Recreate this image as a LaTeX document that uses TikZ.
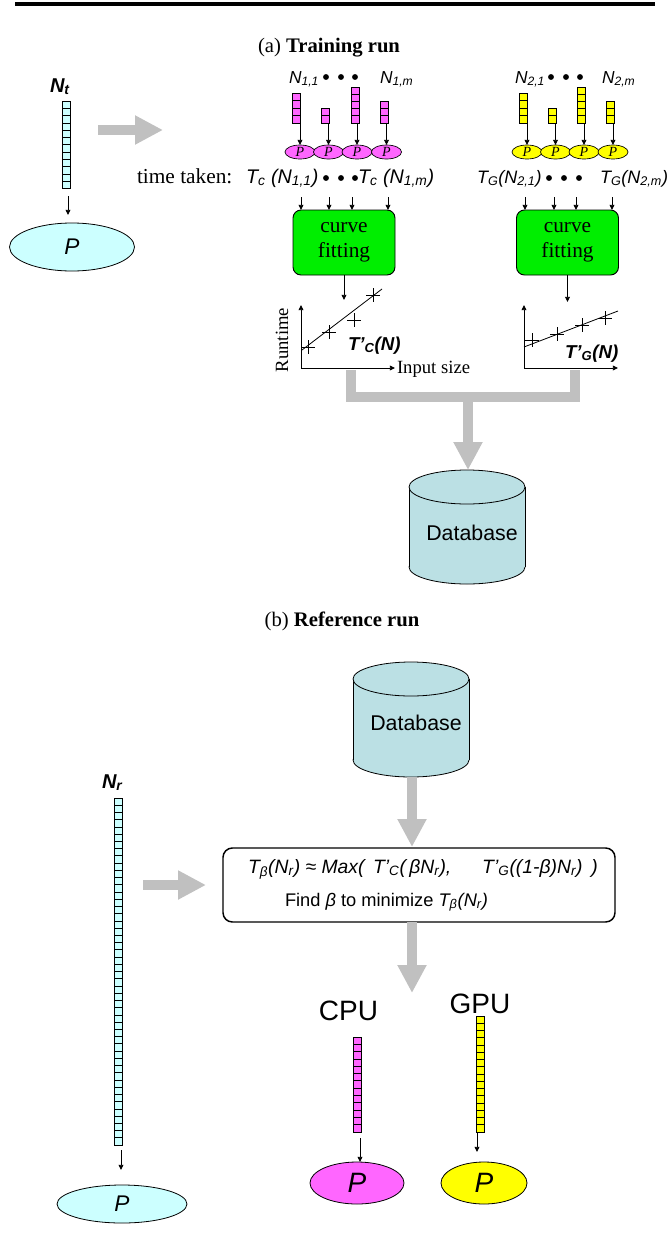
\documentclass[tikz,border=0pt]{standalone}
\usepackage{fontspec}
\setmainfont{Liberation Serif}
\setsansfont{Liberation Sans}
\usetikzlibrary{arrows.meta,shapes.geometric}

\definecolor{cyanc}{RGB}{204,255,255}
\definecolor{magc}{RGB}{255,102,255}
\definecolor{yelc}{RGB}{255,255,0}
\definecolor{grnc}{RGB}{0,238,0}
\definecolor{dbc}{RGB}{187,224,228}
\definecolor{grayc}{RGB}{192,192,192}

\newcommand\sfi{\sffamily\itshape}
% name, x, ytop, ncells, cell height (px), colour
\newcommand\mkbar[6]{%
  \node[barbox, fill=#6, minimum height={#4*#5*0.75pt}] (#1) at (#2,#3) {};
  \foreach \ci in {1,...,#4}{\draw[cellline] ([yshift={-\ci*#5*0.75pt}]#1.north west) -- ([yshift={-\ci*#5*0.75pt}]#1.north east);}
}
\newcommand\pcross[2]{\draw[plotline] (#1-7,#2) -- (#1+7,#2) (#1,#2-7) -- (#1,#2+7);}

\begin{document}
\begin{tikzpicture}[x=0.75pt,y=-0.75pt,
  every node/.style={inner sep=0pt, outer sep=0pt},
  barbox/.style={draw, line width=0.6pt, minimum width=6pt, anchor=north},
  cellline/.style={line width=0.6pt},
  arr/.style={-{Triangle[length=3.8pt,width=3.6pt]}, line width=0.6pt},
  plotline/.style={line width=0.6pt},
  gbig/.style={draw=grayc, line width=7.5pt, -{Triangle[length=21pt,width=20.5pt]}},
  gline/.style={draw=grayc, line width=7pt, line join=miter},
  pell/.style={ellipse, draw, line width=0.5pt, minimum width=22.5pt, minimum height=10.5pt, font=\fontsize{10.5}{10.5}\selectfont\itshape},
  bigell/.style={ellipse, draw, line width=0.6pt},
  dot/.style={circle, fill=black, minimum size=4.4pt},
  nlab/.style={anchor=base west, font=\sfi\fontsize{13}{13}\selectfont},
  tlab/.style={anchor=base west, font=\sfi\fontsize{13.5}{13.5}\selectfont},
  tclab/.style={anchor=base west, font=\sfi\fontsize{14.8}{14.8}\selectfont},
  cfbox/.style={draw, line width=0.7pt, fill=grnc, rounded corners=6pt, minimum width=76.5pt, minimum height=48.75pt, align=center, font=\fontsize{16}{18.75}\selectfont},
  dbline/.style={line width=0.6pt},
  ttl/.style={anchor=base, font=\fontsize{15.5}{18}\selectfont}
]
\useasboundingbox (0,0) rectangle (669,1249);
\fill[white] (0,0) rectangle (669,1249);

% top rule
\draw[line width=2.3pt] (15,4) -- (655,4);

% ---------------- (a) Training run ----------------
\node[ttl] (ta) at (329,52) {(a) \textbf{Training run}};

% N_t input
\node[anchor=base west, font=\sfi\bfseries\fontsize{15}{15}\selectfont] (nt) at (50,92) {N\textsubscript{t}};
\mkbar{ntb}{66}{101}{12}{7.3}{cyanc}
\node[bigell, fill=cyanc, minimum width=93.75pt, minimum height=36pt, font=\sfi\fontsize{17}{17}\selectfont] (ptr) at (72,247) {P};
\coordinate (nta) at (68,196);
\coordinate (ntae) at (68,215);
\draw[arr] (nta) -- (ntae);

% gray arrow
\coordinate (ga1s) at (98,130);
\coordinate (ga1e) at (163,130);
\draw[gbig] (ga1s) -- (ga1e);

% CPU training group
\node[nlab] (n11) at (289,83) {N\textsubscript{1,1}};
\node[dot] (d11) at (326,77) {};
\node[dot] (d12) at (341,77) {};
\node[dot] (d13) at (355,77) {};
\node[nlab] (n1m) at (380,83) {N\textsubscript{1,m}};

\mkbar{b11}{296}{93}{4}{7.5}{magc}
\mkbar{b12}{325.5}{108}{2}{7.5}{magc}
\mkbar{b13}{355.5}{87}{5}{7.2}{magc}
\mkbar{b14}{384.5}{101}{3}{7.3}{magc}
\node[pell, fill=magc] (e11) at (300,152) {P};
\node[pell, fill=magc] (e12) at (328.5,152) {P};
\node[pell, fill=magc] (e13) at (357,152) {P};
\node[pell, fill=magc] (e14) at (386.5,152) {P};
\foreach \b/\e in {b11/e11,b12/e12,b13/e13,b14/e14}{\draw[arr] (\b.south -| \e.north) -- (\e.north);}

\node[anchor=base west, font=\fontsize{16}{16}\selectfont] (tt) at (137,183) {time taken:};
\node[tclab] (tc1) at (246,183) {T\textsubscript{c} (N\textsubscript{1,1})};
\node[dot] (d14) at (326,178) {};
\node[dot] (d15) at (341,178) {};
\node[dot] (d16) at (355,178) {};
\node[tclab] (tc2) at (358,183) {T\textsubscript{c} (N\textsubscript{1,m})};

\node[cfbox] (cf1) at (344,242.5) {curve\\fitting};
\coordinate (c11) at (301,197);
\coordinate (c12) at (329,197);
\coordinate (c13) at (352,197);
\coordinate (c14) at (388,197);
\foreach \c in {c11,c12,c13,c14}{\draw[arr] (\c) -- (\c |- cf1.north);}

\coordinate (p1top) at (344,300);
\draw[arr] (cf1.south) -- (p1top);

% plot 1
\coordinate (o1) at (301,368);
\coordinate (y1) at (301,305);
\coordinate (x1) at (395,368);
\draw[arr] (o1) -- (y1);
\draw[arr] (o1) -- (x1);
\draw[plotline] (302,350) -- (382,289);
\pcross{308}{347}
\pcross{329}{332}
\pcross{354}{320}
\pcross{373}{295}
\node[anchor=base west, font=\sffamily\bfseries\itshape\fontsize{14}{14}\selectfont] (tcn) at (348,350) {T’\textsubscript{C}(N)};
\node[rotate=90, font=\fontsize{14}{14}\selectfont] (rt) at (282,340) {Runtime};
\node[anchor=base west, font=\fontsize{14}{14}\selectfont] (is) at (397,373) {Input size};

% GPU training group
\node[nlab] (n21) at (515,83) {N\textsubscript{2,1}};
\node[dot] (d21) at (551,77) {};
\node[dot] (d22) at (566,77) {};
\node[dot] (d23) at (580,77) {};
\node[nlab] (n2m) at (602,83) {N\textsubscript{2,m}};

\mkbar{b21}{523}{93}{4}{7.5}{yelc}
\mkbar{b22}{552}{108}{2}{7.5}{yelc}
\mkbar{b23}{581.5}{87}{5}{7.2}{yelc}
\mkbar{b24}{610}{101}{3}{7.3}{yelc}
\node[pell, fill=yelc] (e21) at (527,152) {P};
\node[pell, fill=yelc] (e22) at (555.5,152) {P};
\node[pell, fill=yelc] (e23) at (584,152) {P};
\node[pell, fill=yelc] (e24) at (613,152) {P};
\foreach \b/\e in {b21/e21,b22/e22,b23/e23,b24/e24}{\draw[arr] (\b.south -| \e.north) -- (\e.north);}

\node[tlab] (tg1) at (477,183) {T\textsubscript{G}(N\textsubscript{2,1})};
\node[dot] (d24) at (549,178) {};
\node[dot] (d25) at (564,178) {};
\node[dot] (d26) at (579,178) {};
\node[tlab] (tg2) at (600,183) {T\textsubscript{G}(N\textsubscript{2,m})};

\node[cfbox] (cf2) at (567.5,242.5) {curve\\fitting};
\coordinate (c21) at (525,197);
\coordinate (c22) at (554,197);
\coordinate (c23) at (576,197);
\coordinate (c24) at (612,197);
\foreach \c in {c21,c22,c23,c24}{\draw[arr] (\c) -- (\c |- cf2.north);}

\coordinate (p2top) at (567.5,302);
\draw[arr] (cf2.south) -- (p2top);

% plot 2
\coordinate (o2) at (524,368);
\coordinate (y2) at (524,305);
\coordinate (x2) at (618,368);
\draw[arr] (o2) -- (y2);
\draw[arr] (o2) -- (x2);
\draw[plotline] (524,347) -- (618,311);
\pcross{532}{340}
\pcross{557}{334}
\pcross{582}{325}
\pcross{605}{318}
\node[anchor=base west, font=\sffamily\bfseries\itshape\fontsize{14}{14}\selectfont] (tgn) at (565,358) {T’\textsubscript{G}(N)};

% database 1
\draw[dbline, fill=dbc] (467,567) ellipse [x radius=58, y radius=17];
\fill[dbc] (409,487) rectangle (525,567);
\draw[dbline] (409,487) -- (409,567) (525,487) -- (525,567);
\draw[dbline, fill=dbc] (467,487) ellipse [x radius=58, y radius=17];
\node[minimum width=87pt, minimum height=85.5pt] (db1) at (467,527) {};
\node[font=\sffamily\fontsize{16}{16}\selectfont] (db1t) at (472,533) {Database};

% gray merging connectors
\coordinate (g1) at (351,370);
\coordinate (g2) at (575,370);
\coordinate (gj) at (468,397);
\draw[gline] (g1) |- (gj) -| (g2);
\draw[gbig] (gj) -- (gj |- db1.north);

% ---------------- (b) Reference run ----------------
\node[ttl] (tb) at (342,626) {(b) \textbf{Reference run}};

% database 2
\draw[dbline, fill=dbc] (411,760) ellipse [x radius=58, y radius=17];
\fill[dbc] (353,679) rectangle (469,760);
\draw[dbline] (353,679) -- (353,760) (469,679) -- (469,760);
\draw[dbline, fill=dbc] (411,679) ellipse [x radius=58, y radius=17];
\node[minimum width=87pt, minimum height=86.25pt] (db2) at (411,719.5) {};
\node[font=\sffamily\fontsize{16}{16}\selectfont] (db2t) at (416,723) {Database};

% formula box
\node[draw, line width=1.1pt, rounded corners=7pt, minimum width=294pt, minimum height=55.5pt] (fbox) at (419,885) {};
\node[anchor=base west, font=\sfi\fontsize{14.5}{14.5}\selectfont] (fl1) at (248,873) {T\textsubscript{β}(N\textsubscript{r}) ≈ Max(\, T’\textsubscript{C}(\,βN\textsubscript{r}),\hspace{1.6em}T’\textsubscript{G}((1-β)N\textsubscript{r})\, )};
\node[anchor=base west, font=\sffamily\fontsize{13.7}{13.7}\selectfont] (fl2) at (285,906) {Find \textit{β} to minimize \textit{T\textsubscript{β}(N\textsubscript{r})}};

\coordinate (dbt) at (412,847);
\draw[gbig] (db2.south -| dbt) -- (dbt);

% N_r input
\node[anchor=base west, font=\sfi\bfseries\fontsize{15}{15}\selectfont] (nr) at (102,788) {N\textsubscript{r}};
\mkbar{nrb}{118}{798}{48}{7.23}{cyanc}
\coordinate (nra) at (121,1150);
\coordinate (nrae) at (121,1170);
\draw[arr] (nra) -- (nrae);
\node[bigell, fill=cyanc, minimum width=97.5pt, minimum height=28.5pt, font=\sfi\fontsize{17}{17}\selectfont] (pr) at (122,1204) {P};

\coordinate (ga2s) at (143,885);
\coordinate (ga2e) at (206,885);
\draw[gbig] (ga2s) -- (ga2e);

% to CPU / GPU
\coordinate (tipc) at (412,993);
\draw[gbig] (fbox.south -| tipc) -- (tipc);

\node[anchor=base, font=\sffamily\fontsize{21}{21}\selectfont] (cpu) at (348.5,1020) {CPU};
\node[anchor=base, font=\sffamily\fontsize{21}{21}\selectfont] (gpu) at (480,1013) {GPU};
\mkbar{cb}{357}{1037}{13}{7.3}{magc}
\mkbar{gb}{480.5}{1016}{16}{7.25}{yelc}
\node[bigell, fill=magc, minimum width=70.5pt, minimum height=31.5pt, font=\sfi\fontsize{21}{21}\selectfont] (cp) at (357,1183) {P};
\node[bigell, fill=yelc, minimum width=64.5pt, minimum height=31.5pt, font=\sfi\fontsize{21}{21}\selectfont] (gp) at (484,1183) {P};
\coordinate (ca) at (360,1138);
\draw[arr] (ca) -- (ca |- cp.north);
\coordinate (gae) at (477,1152);
\draw[arr] (gb.south -| gae) -- (gae);

\end{tikzpicture}
\end{document}
